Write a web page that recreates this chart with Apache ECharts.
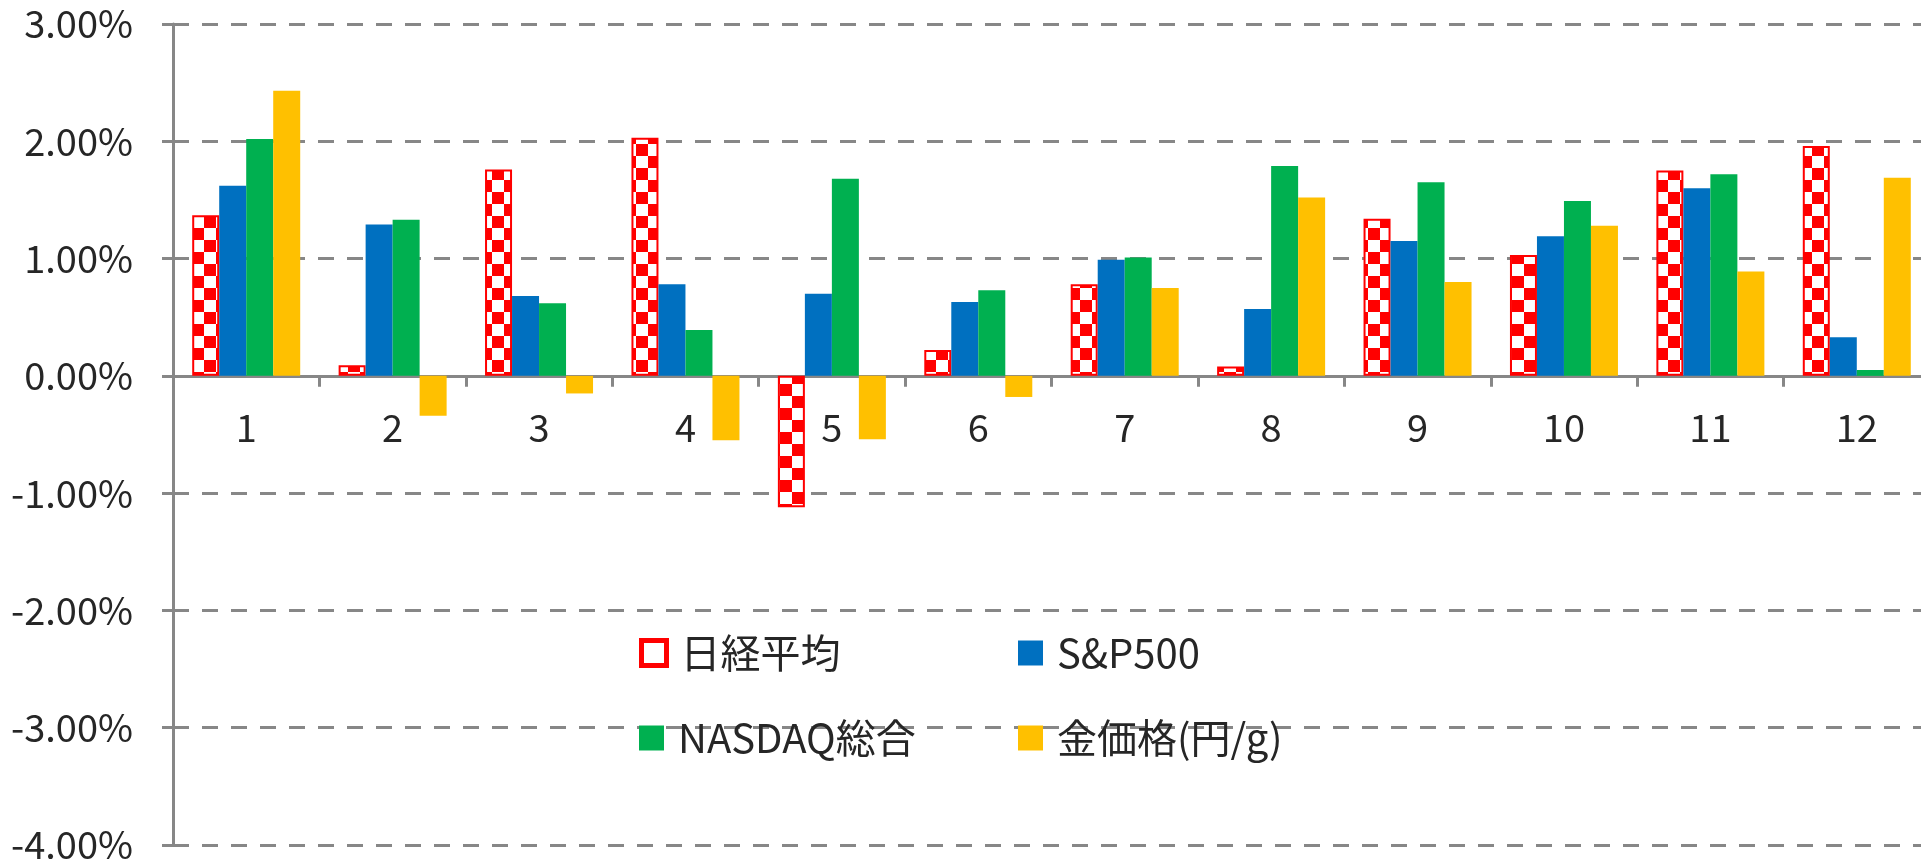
<!DOCTYPE html>
<html>
<head>
<meta charset="utf-8">
<script src="https://cdn.jsdelivr.net/npm/echarts@6/dist/echarts.min.js"></script>
<style>
html,body{margin:0;padding:0;background:#fff;}
#chart{width:1921px;height:862px;}
</style>
</head>
<body>
<div id="chart"></div>
<script>
const categories = ['1','2','3','4','5','6','7','8','9','10','11','12'];
const seriesNames = ['日経平均','S&P500','NASDAQ総合','金価格(円/g)'];
const nikkei = [1.37, 0.09, 1.76, 2.03, -1.12, 0.22, 0.78, 0.08, 1.34, 1.03, 1.75, 1.96];
const sp500  = [1.62, 1.29, 0.68, 0.78, 0.70, 0.63, 0.99, 0.57, 1.15, 1.19, 1.60, 0.33];
const nasdaq = [2.02, 1.33, 0.62, 0.39, 1.68, 0.73, 1.01, 1.79, 1.65, 1.49, 1.72, 0.05];
const gold   = [2.43, -0.34, -0.15, -0.55, -0.54, -0.18, 0.75, 1.52, 0.80, 1.28, 0.89, 1.69];
const yMin = -4, yMax = 3, yStep = 1;

// checkerboard pattern for 日経平均
const pc = document.createElement('canvas');
pc.width = 24; pc.height = 24;
const g = pc.getContext('2d');
g.fillStyle = '#FF0000'; g.fillRect(0,0,24,24);
g.fillStyle = '#FFFFFF';
g.fillRect(0,0,12,12);
g.fillRect(12,12,12,12);

const gray = '#878787';
const txt = '#262626';
const font = '"Noto Sans CJK JP", "Liberation Sans", sans-serif';

const W = 1921, H = 862;
const gridTop = 24, gridBottom = 17;
const plotH = H - gridTop - gridBottom;
// distance from bottom of plot up to the zero line (so x axis sits at 0)
const zeroOffset = plotH * (0 - yMin) / (yMax - yMin);

const chart = echarts.init(document.getElementById('chart'), null, {renderer:'canvas'});

function legendAt(name, left, centerY, itemStyle){
  return {
    show: true,
    left: left, top: centerY - 24,
    padding: 0,
    itemWidth: 25, itemHeight: 25,
    icon: 'rect',
    data: [itemStyle ? {name: name, itemStyle: itemStyle} : {name: name}],
    textStyle: {fontFamily: font, fontSize: 40, color: txt, padding: [0,0,0,9]}
  };
}

const option = {
  backgroundColor: '#fff',
  animation: false,
  grid: {left: 173, right: -9, top: gridTop, bottom: gridBottom, containLabel: false, outerBoundsMode: 'none'},
  legend: [
    legendAt(seriesNames[0], 639, 657, {color:'#fff', borderColor:'#FF0000', borderWidth:5}),
    legendAt(seriesNames[1], 1018, 657),
    legendAt(seriesNames[2], 639, 742),
    legendAt(seriesNames[3], 1018, 742)
  ],
  xAxis: {
    type: 'category',
    data: categories,
    position: 'bottom',
    offset: -zeroOffset,
    axisLine: {show: true, onZero: false, lineStyle: {color: gray, width: 3}},
    axisTick: {show: true, length: 11, lineStyle: {color: gray, width: 3}},
    axisLabel: {fontFamily: font, fontSize: 38, color: txt, margin: 33},
    splitLine: {show: false}
  },
  yAxis: {
    type: 'value',
    min: yMin, max: yMax, interval: yStep,
    axisLine: {show: true, lineStyle: {color: gray, width: 3}},
    axisTick: {show: true, length: 11, lineStyle: {color: gray, width: 3}},
    axisLabel: {fontFamily: font, fontSize: 38, color: txt, margin: 40,
      formatter: v => v.toFixed(2) + '%'},
    splitLine: {show: true, lineStyle: {color: gray, width: 3, type: [16, 13]}}
  },
  series: [
    {name: seriesNames[0], type: 'bar', data: nikkei, barWidth: 27, barGap: '0%',
     itemStyle: {color: {image: pc, repeat: 'repeat'}, borderColor: '#FF0000', borderWidth: 2}},
    {name: seriesNames[1], type: 'bar', data: sp500, barWidth: 27, barGap: '0%',
     itemStyle: {color: '#0070C0'}},
    {name: seriesNames[2], type: 'bar', data: nasdaq, barWidth: 27, barGap: '0%',
     itemStyle: {color: '#00B050'}},
    {name: seriesNames[3], type: 'bar', data: gold, barWidth: 27, barGap: '0%',
     itemStyle: {color: '#FFC000'}}
  ]
};
chart.setOption(option);
</script>
</body>
</html>
